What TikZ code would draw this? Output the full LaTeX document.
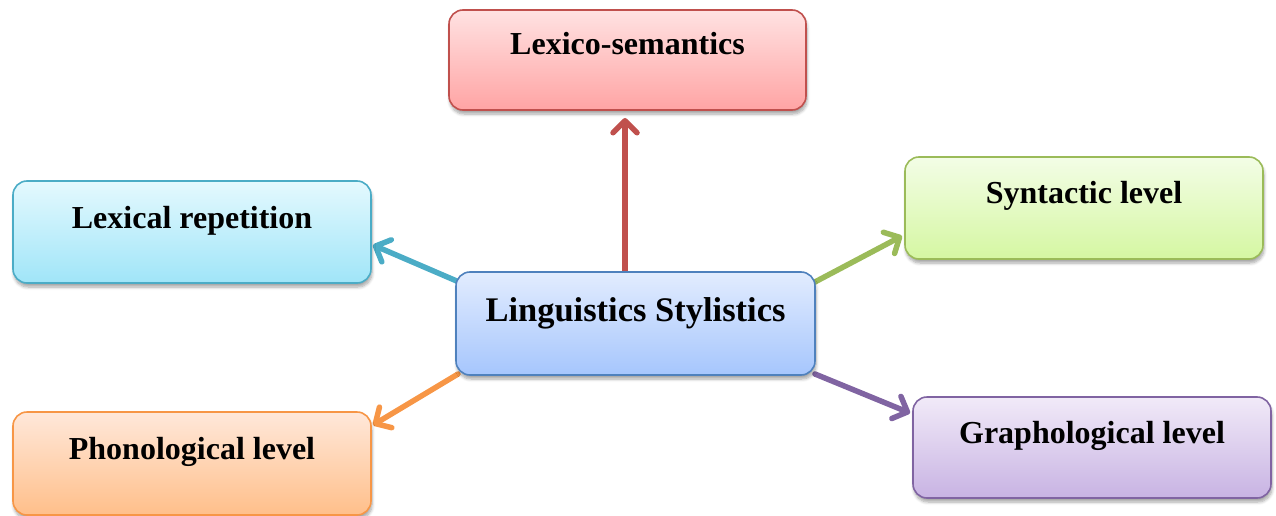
\documentclass[tikz,border=0pt]{standalone}
\usepackage{fontspec}
\setmainfont{Liberation Serif}
\usetikzlibrary{arrows.meta,shadows.blur}
\pgfdeclarelayer{background}
\pgfsetlayers{background,main}

% box outlines, fills and arrow colours
\definecolor{redline}{HTML}{C0504D}
\definecolor{redtop}{HTML}{FFE2E2}
\definecolor{redbot}{HTML}{FFA4A4}
\definecolor{cyanline}{HTML}{4BACC6}
\definecolor{cyantop}{HTML}{E4F9FE}
\definecolor{cyanbot}{HTML}{A0E5F8}
\definecolor{blueline}{HTML}{4F81BD}
\definecolor{bluetop}{HTML}{E2ECFE}
\definecolor{bluebot}{HTML}{A6C6FD}
\definecolor{greenline}{HTML}{9BBB59}
\definecolor{greentop}{HTML}{F3FDE6}
\definecolor{greenbot}{HTML}{D5F7A2}
\definecolor{orangeline}{HTML}{F79646}
\definecolor{orangetop}{HTML}{FFE8DA}
\definecolor{orangebot}{HTML}{FFBF8A}
\definecolor{purpleline}{HTML}{8064A2}
\definecolor{purpletop}{HTML}{F1EAF8}
\definecolor{purplebot}{HTML}{C8B3E3}

\tikzset{
  levelbox/.style={rectangle, rounded corners=14pt, line width=1.6pt,
    inner sep=0pt, outer sep=0pt, anchor=north west,
    font=\fontsize{32}{38}\selectfont\bfseries,
    blur shadow={shadow xshift=1pt, shadow yshift=-4pt, shadow blur steps=6,
      shadow blur radius=3pt, shadow opacity=35}},
  colourbox/.style n args={3}{draw=#1, top color=#2, bottom color=#3},
  link/.style={line width=5.5pt, line cap=round,
    -{Straight Barb[length=12pt, width=24pt, round]}}
}

\begin{document}
\begin{tikzpicture}[x=1pt, y=-1pt]
  \useasboundingbox (0,0) rectangle (1276,516);

  % centre topic
  \node[levelbox, colourbox={blueline}{bluetop}{bluebot},
        minimum width=359pt, minimum height=103pt,
        text height=49pt, text depth=54pt,
        font=\fontsize{34.5}{40}\selectfont\bfseries]
        (c) at (456,272) {Linguistics Stylistics};

  % surrounding levels
  \node[levelbox, colourbox={redline}{redtop}{redbot},
        minimum width=357pt, minimum height=100pt,
        text height=45pt, text depth=55pt]
        (lex) at (449,10) {Lexico-semantics};
  \node[levelbox, colourbox={cyanline}{cyantop}{cyanbot},
        minimum width=358pt, minimum height=102pt,
        text height=47pt, text depth=55pt]
        (lr) at (13,181) {Lexical repetition};
  \node[levelbox, colourbox={greenline}{greentop}{greenbot},
        minimum width=358pt, minimum height=102pt,
        text height=46pt, text depth=56pt]
        (syn) at (905,157) {Syntactic level};
  \node[levelbox, colourbox={orangeline}{orangetop}{orangebot},
        minimum width=358pt, minimum height=103pt,
        text height=47pt, text depth=56pt]
        (ph) at (13,412) {Phonological level};
  \node[levelbox, colourbox={purpleline}{purpletop}{purplebot},
        minimum width=358pt, minimum height=101pt,
        text height=46pt, text depth=55pt]
        (gr) at (913,397) {Graphological level};

  % where the connectors leave the centre and meet the levels
  \coordinate (c-up)  at ([shift={(-10.5,0)}]c.north);
  \coordinate (c-ul)  at ([shift={(3,10)}]c.north west);
  \coordinate (c-ur)  at ([shift={(-2,11)}]c.north east);
  \coordinate (c-dl)  at ([shift={(2,-1)}]c.south west);
  \coordinate (c-dr)  at ([shift={(0,-1)}]c.south east);
  \coordinate (lex-in) at ([shift={(-2.5,8)}]lex.south);
  \coordinate (lr-in)  at ([shift={(2,13)}]lr.east);
  \coordinate (syn-in) at ([shift={(-3,-23)}]syn.south west);
  \coordinate (ph-in)  at ([shift={(2,13)}]ph.north east);
  \coordinate (gr-in)  at ([shift={(-3,16)}]gr.north west);

  \begin{pgfonlayer}{background}
    \draw[link, redline]    (c-up) -- (lex-in);
    \draw[link, cyanline]   (c-ul) -- (lr-in);
    \draw[link, greenline]  (c-ur) -- (syn-in);
    \draw[link, orangeline] (c-dl) -- (ph-in);
    \draw[link, purpleline] (c-dr) -- (gr-in);
  \end{pgfonlayer}
\end{tikzpicture}
\end{document}
